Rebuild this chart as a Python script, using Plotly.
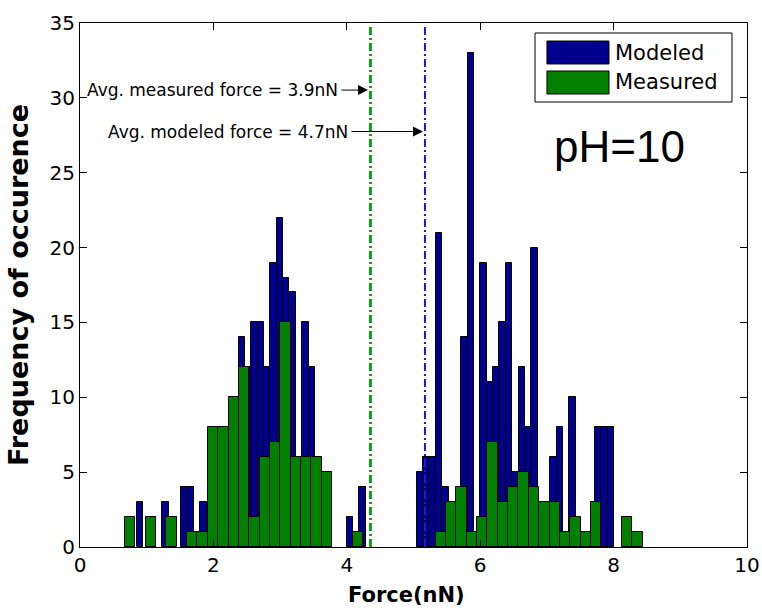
import plotly.graph_objects as go

# ---------------- data ----------------
# Measured histogram: 50 equal bins
MEAS_START = 0.6747
MEAS_WIDTH = 0.15523
MEAS_COUNTS = [2, 0, 2, 0, 2, 0, 1, 1, 8, 8,
               10, 12, 2, 6, 7, 15, 6, 6, 6, 5,
               0, 0, 1, 0, 0, 0, 0, 0, 0, 0,
               1, 3, 4, 1, 2, 7, 3, 4, 5, 4,
               3, 3, 1, 2, 1, 3, 0, 0, 2, 1]

# Modeled histogram: 75 equal bins
MOD_START = 0.8501
MOD_WIDTH = 0.09541
MOD_COUNTS = [3, 0, 1, 0, 3, 1, 0, 4, 4, 0,
              3, 1, 4, 5, 6, 7, 14, 12, 15, 15,
              12, 19, 22, 18, 17, 4, 15, 12, 5, 3,
              0, 0, 0, 2, 0, 4, 0, 0, 0, 0,
              0, 0, 0, 0, 5, 6, 6, 21, 4, 2,
              3, 14, 33, 1, 19, 11, 12, 15, 19, 5,
              12, 8, 20, 2, 1, 6, 8, 1, 10, 1,
              0, 0, 8, 8, 8]

AVG_MEAS_LINE_X = 4.355
AVG_MOD_LINE_X = 5.172
MEAS_LABEL = "Avg. measured force = 3.9nN"
MOD_LABEL = "Avg. modeled force = 4.7nN"

X_TICKS = [0, 2, 4, 6, 8, 10]
Y_TICKS = [0, 5, 10, 15, 20, 25, 30, 35]

BLUE = "#00008F"
GREEN = "#008000"


def bins(start, width, counts):
    xs, ys = [], []
    for i, c in enumerate(counts):
        if c > 0:
            xs.append(start + width * (i + 0.5))
            ys.append(c)
    return xs, ys


mx, my = bins(MOD_START, MOD_WIDTH, MOD_COUNTS)
gx, gy = bins(MEAS_START, MEAS_WIDTH, MEAS_COUNTS)

fig = go.Figure()
fig.add_trace(go.Bar(x=mx, y=my, width=[MOD_WIDTH] * len(mx), name="Modeled",
                     marker=dict(color=BLUE, line=dict(color="black", width=1))))
fig.add_trace(go.Bar(x=gx, y=gy, width=[MEAS_WIDTH] * len(gx), name="Measured",
                     marker=dict(color=GREEN, line=dict(color="black", width=1))))

# mean lines
fig.add_shape(type="line", xref="x", yref="y", x0=AVG_MEAS_LINE_X, x1=AVG_MEAS_LINE_X,
              y0=0, y1=34.8, line=dict(color="#00A000", width=2.8, dash="8px,3px,2px,3px"))
fig.add_shape(type="line", xref="x", yref="y", x0=AVG_MOD_LINE_X, x1=AVG_MOD_LINE_X,
              y0=0, y1=34.8, line=dict(color="#1A1AD0", width=2, dash="8px,3px,2px,3px"))

# custom legend
fig.add_shape(type="rect", xref="paper", yref="paper", x0=0.6822, x1=0.9775, y0=0.8492, y1=0.9809,
              line=dict(color="black", width=1), fillcolor="white", layer="above")
fig.add_shape(type="rect", xref="paper", yref="paper", x0=0.7001, x1=0.7931, y0=0.9218, y1=0.9656,
              line=dict(color="black", width=1), fillcolor=BLUE, layer="above")
fig.add_shape(type="rect", xref="paper", yref="paper", x0=0.7001, x1=0.7931, y0=0.8645, y1=0.9084,
              line=dict(color="black", width=1), fillcolor=GREEN, layer="above")

txt_font = dict(family="DejaVu Sans", size=17, color="black")
annotations = [
    dict(xref="paper", yref="paper", x=0.799, y=0.9437, text="Modeled", showarrow=False,
         xanchor="left", yanchor="middle", font=dict(family="DejaVu Sans", size=21, color="black")),
    dict(xref="paper", yref="paper", x=0.799, y=0.8865, text="Measured", showarrow=False,
         xanchor="left", yanchor="middle", font=dict(family="DejaVu Sans", size=21, color="black")),
    dict(xref="paper", yref="paper", x=0.707, y=0.765, text="pH=10", showarrow=False,
         xanchor="left", yanchor="middle", font=dict(family="Liberation Sans", size=44, color="black")),
    # measured label + arrow
    dict(xref="x", yref="y", x=3.898, y=30.52, text=MEAS_LABEL, showarrow=False,
         xanchor="right", yanchor="middle", font=txt_font),
    dict(xref="x", yref="y", x=4.318, y=30.52, text="", showarrow=True, ax=-28, ay=0,
         arrowhead=2, arrowsize=2, arrowwidth=1, arrowcolor="black", standoff=0),
    # modeled label + arrow
    dict(xref="x", yref="y", x=4.048, y=27.75, text=MOD_LABEL, showarrow=False,
         xanchor="right", yanchor="middle", font=txt_font),
    dict(xref="x", yref="y", x=5.142, y=27.75, text="", showarrow=True, ax=-73, ay=0,
         arrowhead=2, arrowsize=2, arrowwidth=1, arrowcolor="black", standoff=0),
    # axis titles
    dict(xref="paper", yref="paper", x=0.4888, y=-0.092, text="<b>Force(nN)</b>", showarrow=False,
         xanchor="center", yanchor="middle", font=dict(family="DejaVu Sans", size=21, color="black")),
    dict(xref="paper", yref="paper", x=-0.093, y=0.5, text="<b>Frequency of occurence</b>",
         showarrow=False, textangle=-90, xanchor="center", yanchor="middle",
         font=dict(family="DejaVu Sans", size=27, color="black")),
]

axis_common = dict(showline=True, linecolor="black", linewidth=1, mirror="ticks",
                   ticks="inside", ticklen=7, tickcolor="black", showgrid=False, zeroline=False,
                   tickfont=dict(family="DejaVu Sans", size=20, color="black"))

fig.update_layout(
    width=762, height=608,
    margin=dict(l=80, r=15, t=23, b=61, autoexpand=False),
    paper_bgcolor="white", plot_bgcolor="white",
    showlegend=False, barmode="overlay", bargap=0,
    xaxis=dict(range=[0, 10], tickvals=X_TICKS, ticktext=[str(v) for v in X_TICKS], **axis_common),
    yaxis=dict(range=[0, 35], tickvals=Y_TICKS, ticktext=[str(v) for v in Y_TICKS], **axis_common),
    annotations=annotations,
)

fig.write_html("out.html", config={"displayModeBar": False},
               post_script="document.body.style.margin='0px';document.body.style.overflow='hidden';")
